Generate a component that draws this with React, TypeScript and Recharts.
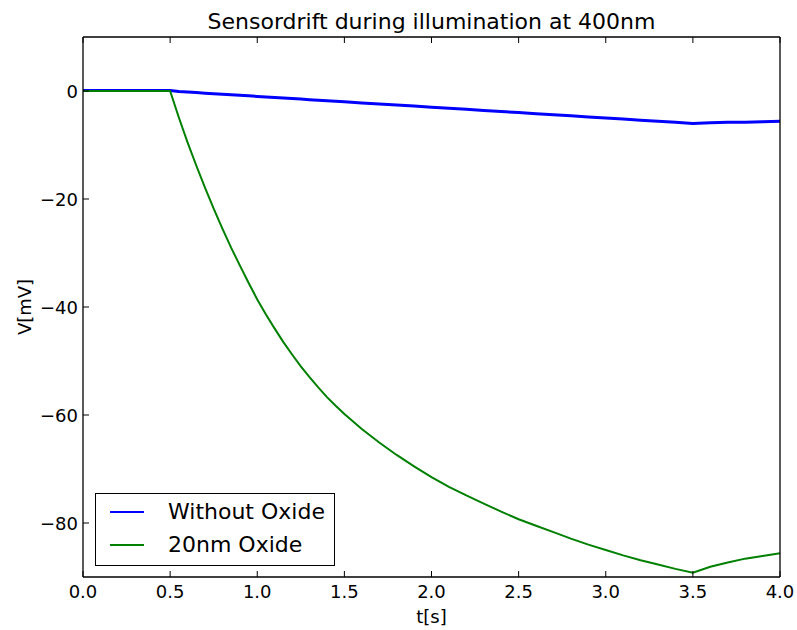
import React from 'react';
import { LineChart, Line, XAxis, YAxis, Legend } from 'recharts';

const times = [
  0.0, 0.1, 0.2, 0.3, 0.4, 0.5, 0.55, 0.6, 0.65, 0.7, 0.75, 0.8, 0.85, 0.9, 0.95,
  1.0, 1.05, 1.1, 1.15, 1.2, 1.25, 1.3, 1.35, 1.4, 1.45, 1.5, 1.6, 1.7, 1.8, 1.9,
  2.0, 2.1, 2.2, 2.3, 2.4, 2.5, 2.6, 2.7, 2.8, 2.9,
  3.0, 3.1, 3.2, 3.3, 3.4, 3.5, 3.6, 3.7, 3.8, 3.9, 4.0,
];

const withoutOxide = [
  0.1, 0.1, 0.1, 0.1, 0.1, 0.1, -0.1, -0.2, -0.3, -0.4, -0.5, -0.6, -0.7, -0.8, -0.9,
  -1.0, -1.1, -1.2, -1.3, -1.4, -1.5, -1.6, -1.7, -1.8, -1.9, -2.0, -2.2, -2.4, -2.6, -2.8,
  -3.0, -3.2, -3.4, -3.6, -3.8, -4.0, -4.2, -4.4, -4.6, -4.8,
  -5.0, -5.2, -5.4, -5.6, -5.8, -6.0, -5.9, -5.8, -5.8, -5.7, -5.6,
];

const oxide20nm = [
  0, 0, 0, 0, 0, 0, -4.9, -9.5, -13.8, -17.9, -21.8, -25.5, -29.0, -32.3, -35.5,
  -38.6, -41.4, -44.0, -46.5, -48.8, -51.0, -53.0, -54.9, -56.7, -58.3, -59.8, -62.6, -65.1, -67.4, -69.5,
  -71.5, -73.3, -74.9, -76.4, -77.9, -79.3, -80.5, -81.7, -82.9, -84.0,
  -85.0, -86.0, -86.9, -87.7, -88.5, -89.2, -88.1, -87.3, -86.6, -86.1, -85.6,
];

const xTicks = [0, 0.5, 1, 1.5, 2, 2.5, 3, 3.5, 4];
const yTicks = [-80, -60, -40, -20, 0];

const data = times.map((t, i) => ({ t, blue: withoutOxide[i], green: oxide20nm[i] }));

const FONT = '"DejaVu Sans", sans-serif';
const TICK = 6;

const fmtY = (v: number) => (v < 0 ? '\u2212' + Math.abs(v) : String(v));

const BottomTick = ({ x, y, payload }: any) => (
  <g>
    <line x1={x} y1={y} x2={x} y2={y - TICK} stroke="#000" strokeWidth={1} />
    <text x={x} y={y + 21} textAnchor="middle" fontSize={18} fontFamily={FONT} fill="#000">
      {Number(payload.value).toFixed(1)}
    </text>
  </g>
);

const TopTick = ({ x, y }: any) => (
  <line x1={x} y1={y} x2={x} y2={y + TICK} stroke="#000" strokeWidth={1} />
);

const LeftTick = ({ x, y, payload }: any) => (
  <g>
    <line x1={x} y1={y} x2={x + TICK} y2={y} stroke="#000" strokeWidth={1} />
    <text x={x - 5} y={y + 6.5} textAnchor="end" fontSize={18} fontFamily={FONT} fill="#000">
      {fmtY(payload.value)}
    </text>
  </g>
);

const RightTick = ({ x, y }: any) => (
  <line x1={x} y1={y} x2={x - TICK} y2={y} stroke="#000" strokeWidth={1} />
);

const LegendBox = () => (
  <div
    style={{
      position: 'relative',
      width: 240,
      height: 73,
      border: '1px solid #000',
      background: '#fff',
      fontFamily: FONT,
      fontSize: 22,
      boxSizing: 'border-box',
    }}
  >
    {[
      { name: 'Without Oxide', color: '#0000ff', top: 18 },
      { name: '20nm Oxide', color: '#008000', top: 51 },
    ].map((it) => (
      <div key={it.name}>
        <div
          style={{
            position: 'absolute',
            left: 14,
            top: it.top - 1,
            width: 34,
            height: 0,
            borderTop: `2px solid ${it.color}`,
          }}
        />
        <div
          style={{
            position: 'absolute',
            left: 72,
            top: it.top - 13,
            lineHeight: '26px',
            whiteSpace: 'nowrap',
            color: '#000',
          }}
        >
          {it.name}
        </div>
      </div>
    ))}
  </div>
);

export default function App() {
  return (
    <div style={{ position: 'absolute', left: 0, top: 0, width: 797, height: 630, background: '#fff' }}>
      <div
        style={{
          position: 'absolute',
          left: 83,
          width: 697,
          top: 11,
          lineHeight: '22px',
          fontSize: 22,
          fontFamily: FONT,
          textAlign: 'center',
          color: '#000',
          zIndex: 2,
        }}
      >
        Sensordrift during illumination at 400nm
      </div>
      <LineChart width={797} height={630} data={data} margin={{ top: 36, right: 16, bottom: 0, left: 0 }}>
        <XAxis
          dataKey="t"
          type="number"
          domain={[0, 4]}
          ticks={xTicks}
          height={53}
          tickSize={0}
          tickMargin={0}
          tickLine={false}
          tick={<BottomTick />}
          axisLine={{ stroke: '#000', strokeWidth: 1.3 }}
          interval={0}
          label={() => (
            <text x={431.5} y={623} textAnchor="middle" fontSize={18} fontFamily={FONT} fill="#000">
              t[s]
            </text>
          )}
        />
        <XAxis
          xAxisId="top"
          orientation="top"
          dataKey="t"
          type="number"
          domain={[0, 4]}
          ticks={xTicks}
          height={1}
          tickSize={0}
          tickMargin={0}
          tickLine={false}
          tick={<TopTick />}
          axisLine={{ stroke: '#000', strokeWidth: 1.3 }}
          interval={0}
        />
        <YAxis
          type="number"
          domain={[-90, 10]}
          ticks={yTicks}
          width={83}
          tickSize={0}
          tickMargin={0}
          tickLine={false}
          tick={<LeftTick />}
          axisLine={{ stroke: '#000', strokeWidth: 1.3 }}
          interval={0}
          label={() => (
            <text
              x={24}
              y={307}
              transform="rotate(-90, 24, 307)"
              textAnchor="middle"
              dominantBaseline="central"
              fontSize={18}
              fontFamily={FONT}
              fill="#000"
            >
              V[mV]
            </text>
          )}
        />
        <YAxis
          yAxisId="right"
          orientation="right"
          type="number"
          domain={[-90, 10]}
          ticks={yTicks}
          width={1}
          tickSize={0}
          tickMargin={0}
          tickLine={false}
          tick={<RightTick />}
          axisLine={{ stroke: '#000', strokeWidth: 1.3 }}
          interval={0}
        />
        <Line
          dataKey="blue"
          name="Without Oxide"
          type="linear"
          stroke="#0000ff"
          strokeWidth={3}
          dot={false}
          isAnimationActive={false}
        />
        <Line
          dataKey="green"
          name="20nm Oxide"
          type="linear"
          stroke="#008000"
          strokeWidth={2}
          dot={false}
          isAnimationActive={false}
        />
        <Legend
          layout="horizontal"
          verticalAlign="middle"
          align="center"
          content={() => <LegendBox />}
          wrapperStyle={{ left: 95, top: 493, width: 240, height: 73 }}
        />
      </LineChart>
    </div>
  );
}
